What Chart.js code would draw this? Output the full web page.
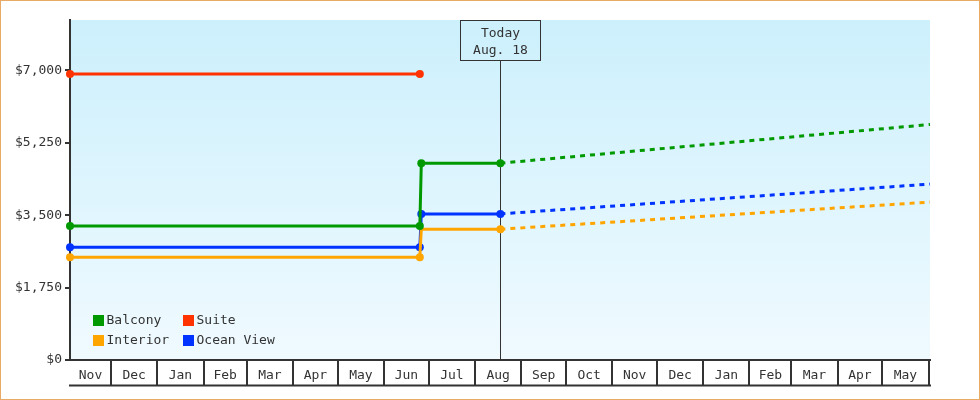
<!DOCTYPE html>
<html>
<head>
<meta charset="utf-8">
<script src="https://cdn.jsdelivr.net/npm/chart.js@4.4.1/dist/chart.umd.min.js"></script>
<style>
    html, body { margin: 0; padding: 0; background: #fff; }
    #wrap {
        width: 980px;
        height: 400px;
        box-sizing: border-box;
        border: 1px solid #e9aa66;
        background: #fff;
    }
    canvas { display: block; }
</style>
</head>
<body>
<div id="wrap"><canvas id="priceChart" width="978" height="398"></canvas></div>
<script>
// ── Data (x = days since Nov 1, 2023) ──

const MONTH_LABELS = ["Nov", "Dec", "Jan", "Feb", "Mar", "Apr", "May", "Jun", "Jul", "Aug",
    "Sep", "Oct", "Nov", "Dec", "Jan", "Feb", "Mar", "Apr", "May"];
const MONTH_STARTS = [0, 30, 61, 92, 121, 152, 182, 213, 243, 274,
    305, 335, 366, 396, 427, 458, 486, 517, 547, 578];
const X_MIN = 2.5;
const X_MAX = 579;
const TODAY = 291;
const TODAY_LABEL = ["Today", "Aug. 18"];

const Y_TICKS = [0, 1750, 3500, 5250, 7000];
const Y_MAX = 8214;

const CABIN_DAYS = [2.5, 237, 238, 291, 579];
const BALCONY = [3235, 3235, 4755, 4755, 5690];
const INTERIOR = [2485, 2485, 3160, 3160, 3815];
const OCEAN_VIEW = [2725, 2725, 3530, 3530, 4250];
const SUITE_DAYS = [2.5, 237];
const SUITE = [6910, 6910];

const FONT = "'DejaVu Sans Mono', 'Liberation Mono', monospace";
const INK = "#333";

// ── Helpers ──

const toPoints = (days, values) => days.map((d, i) => ({ x: d, y: values[i] }));

const boundaries = MONTH_STARTS.filter((d) => d > X_MIN && d < X_MAX);
const midLabels = new Map();
MONTH_LABELS.forEach((m, i) => {
    const lo = Math.max(MONTH_STARTS[i], X_MIN);
    const hi = Math.min(MONTH_STARTS[i + 1], X_MAX);
    midLabels.set((lo + hi) / 2, m);
});

function series(label, color, days, values, hidePoint) {
    return {
        label,
        data: toPoints(days, values),
        borderColor: color,
        backgroundColor: color,
        borderWidth: 3,
        // no marker on the projected end point (and, for Interior, after the jump)
        pointRadius: (ctx) => (ctx.dataIndex === 4 || ctx.dataIndex === hidePoint ? 0 : 4),
        pointBorderWidth: 0,
        pointHoverRadius: 5,
        tension: 0,
        clip: false,
        segment: {
            borderDash: (ctx) => (ctx.p0.parsed.x >= TODAY ? [5, 5] : undefined),
        },
    };
}

// ── Plugins: plot background, today marker, legend, month row ──

const plotBackground = {
    id: "plotBackground",
    beforeDraw(chart) {
        const { ctx, chartArea: a } = chart;
        const g = ctx.createLinearGradient(0, a.top, 0, a.bottom);
        g.addColorStop(0, "#ccf0fc");
        g.addColorStop(1, "#f0faff");
        ctx.save();
        ctx.fillStyle = g;
        ctx.fillRect(a.left, a.top, a.right - a.left, a.bottom - a.top);
        ctx.restore();
    },
};

const todayMarker = {
    id: "todayMarker",
    beforeDatasetsDraw(chart) {
        const { ctx, chartArea: a } = chart;
        const x = Math.round(chart.scales.x.getPixelForValue(TODAY)) + 0.5;
        ctx.save();
        ctx.strokeStyle = INK;
        ctx.lineWidth = 1;
        ctx.beginPath();
        ctx.moveTo(x, a.top + 41);
        ctx.lineTo(x, a.bottom);
        ctx.stroke();
        ctx.restore();
    },
    afterDraw(chart) {
        const { ctx, chartArea: a } = chart;
        const x = Math.round(chart.scales.x.getPixelForValue(TODAY)) + 0.5;
        ctx.save();
        ctx.strokeStyle = INK;
        ctx.lineWidth = 1;
        ctx.strokeRect(x - 40, a.top + 0.5, 80, 40);
        ctx.fillStyle = INK;
        ctx.font = "13px " + FONT;
        ctx.textAlign = "center";
        ctx.textBaseline = "middle";
        ctx.fillText(TODAY_LABEL[0], x, a.top + 13.5);
        ctx.fillText(TODAY_LABEL[1], x, a.top + 31);
        ctx.restore();
    },
};

const insideLegend = {
    id: "insideLegend",
    afterDatasetsDraw(chart) {
        const { ctx, chartArea: a } = chart;
        ctx.save();
        ctx.font = "13px " + FONT;
        ctx.textAlign = "left";
        ctx.textBaseline = "middle";
        chart.data.datasets.forEach((ds, i) => {
            const col = Math.floor(i / 2);
            const row = i % 2;
            const bx = a.left + 23 + col * 90;
            const cy = a.bottom - 40 + row * 20;
            ctx.fillStyle = ds.borderColor;
            ctx.fillRect(bx, cy - 5, 11, 11);
            ctx.fillStyle = INK;
            ctx.fillText(ds.label, bx + 13.5, cy + 1);
        });
        ctx.restore();
    },
};

const monthRow = {
    id: "monthRow",
    afterDraw(chart) {
        const { ctx, chartArea: a } = chart;
        ctx.save();
        ctx.strokeStyle = INK;
        ctx.lineWidth = 2;
        ctx.beginPath();
        ctx.moveTo(a.left - 1, a.bottom + 25.5);
        ctx.lineTo(a.right + 1, a.bottom + 25.5);
        ctx.stroke();
        ctx.restore();
    },
};

// ── Chart ──

const ctx = document.getElementById("priceChart").getContext("2d");

new Chart(ctx, {
    type: "line",
    data: {
        datasets: [
            series("Balcony", "#009900", CABIN_DAYS, BALCONY),
            series("Interior", "#ffa500", CABIN_DAYS, INTERIOR, 2),
            series("Suite", "#ff3300", SUITE_DAYS, SUITE),
            series("Ocean View", "#0033ff", CABIN_DAYS, OCEAN_VIEW),
        ],
    },
    options: {
        responsive: false,
        animation: false,
        layout: { padding: { top: 19, right: 49, left: 0, bottom: 0 } },
        plugins: {
            legend: { display: false },
            tooltip: {
                callbacks: {
                    label: (tip) => `${tip.dataset.label}: $${tip.parsed.y.toLocaleString("en-US")}`,
                },
            },
        },
        scales: {
            x: {
                type: "linear",
                min: X_MIN,
                max: X_MAX,
                afterBuildTicks: (axis) => {
                    axis.ticks = [...boundaries, ...midLabels.keys()].map((v) => ({ value: v }));
                },
                afterFit: (axis) => { axis.height = 39; },
                ticks: {
                    autoSkip: false,
                    maxRotation: 0,
                    padding: -17,
                    color: INK,
                    font: { family: FONT, size: 13 },
                    callback: (v) => midLabels.get(v) || "",
                },
                grid: {
                    drawOnChartArea: false,
                    tickLength: 25,
                    lineWidth: 2,
                    color: (c) => (c.tick && midLabels.has(c.tick.value) ? "rgba(0,0,0,0)" : INK),
                },
                border: { display: true, color: INK, width: 2 },
            },
            y: {
                min: 0,
                max: Y_MAX,
                afterBuildTicks: (axis) => {
                    axis.ticks = Y_TICKS.map((v) => ({ value: v }));
                },
                afterFit: (axis) => { axis.width = 69; },
                ticks: {
                    padding: 3,
                    color: INK,
                    font: { family: FONT, size: 13 },
                    callback: (v) => "$" + v.toLocaleString("en-US"),
                },
                grid: {
                    drawOnChartArea: false,
                    tickLength: 5,
                    lineWidth: 2,
                    color: INK,
                },
                border: { display: true, color: INK, width: 2 },
            },
        },
    },
    plugins: [plotBackground, todayMarker, insideLegend, monthRow],
});
</script>
</body>
</html>
